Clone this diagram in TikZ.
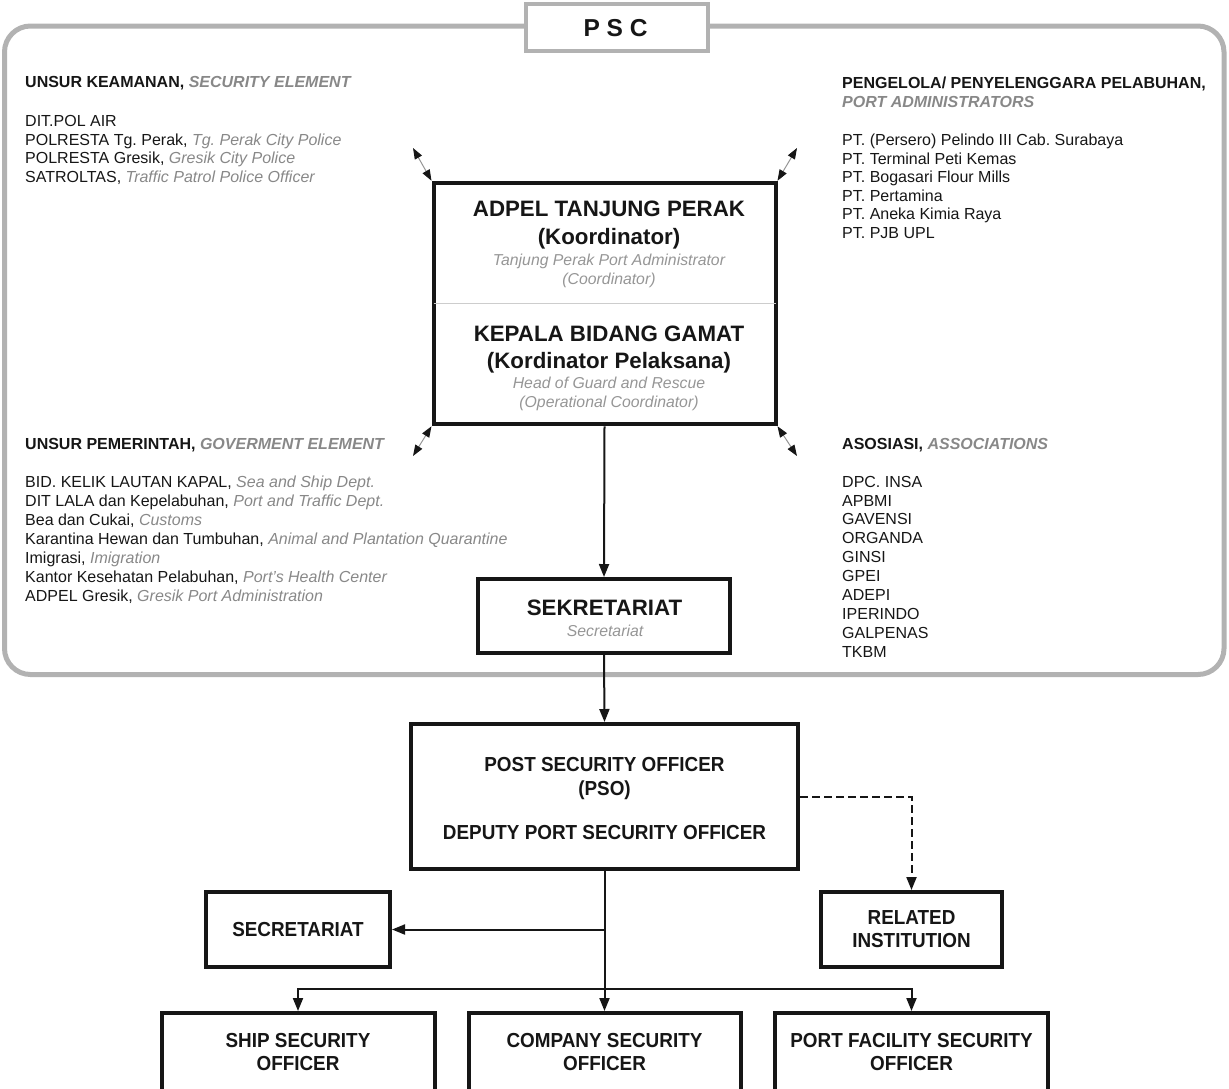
\documentclass[tikz,border=0pt]{standalone}
\usepackage{fontspec}
\setmainfont{Liberation Sans}
\newfontfamily\condsans[FakeStretch=0.93]{Liberation Sans}
\usetikzlibrary{arrows.meta}
\definecolor{framegray}{RGB}{178,178,178}
\definecolor{engray}{RGB}{136,136,136}
\definecolor{softgray}{RGB}{150,150,150}
\definecolor{rulegray}{RGB}{205,205,205}
\definecolor{ink}{RGB}{22,22,22}
\newcommand\en[1]{{\color{engray}\itshape #1}}
\frenchspacing

\begin{document}
\begin{tikzpicture}[x=1pt,y=-1pt,
  frame/.style={draw=framegray, line width=5pt, rounded corners=26pt},
  pscbox/.style={draw=framegray, line width=4pt, fill=white, inner sep=0,
    minimum width=182pt, minimum height=47pt},
  box/.style={draw=ink, line width=4pt, fill=white, inner sep=0, align=center,
    text=ink, font=\condsans\bfseries\fontsize{20.3}{22.8}\selectfont},
  body/.style={anchor=north west, inner sep=0, align=left, text=ink,
    font=\fontsize{16}{18.9}\selectfont},
  title/.style={anchor=base, inner sep=0, text=ink,
    font=\bfseries\fontsize{22.3}{26}\selectfont},
  sub/.style={anchor=base, inner sep=0, text=softgray,
    font=\itshape\fontsize{15.8}{19}\selectfont},
  line/.style={anchor=base, inner sep=0, text=ink,
    font=\condsans\bfseries\fontsize{20.3}{22.8}\selectfont},
  flow/.style={draw=ink, line width=2pt, -{Triangle[length=13pt,width=10pt]}},
  dashflow/.style={flow, dash pattern=on 8pt off 4pt},
  diag/.style={draw=softgray, line width=1pt,
    {Triangle[length=11pt,width=8pt,color=ink]}-{Triangle[length=11pt,width=8pt,color=ink]}}
]
\useasboundingbox (0,0) rectangle (1229,1088);

% PSC frame and its title tab
\draw[frame] (4.5,26) rectangle (1224,674.5);
\node[pscbox] (psc) at (617,27) {};
\node[anchor=base, inner sep=0, text=ink, font=\bfseries\fontsize{24.5}{28}\selectfont]
  (psctitle) at (615.5,36) {P S C};

% member lists
\node[body] (sechead) at (25,75.7)
  {\textbf{UNSUR KEAMANAN,} \textbf{\en{SECURITY ELEMENT}}};
\node[body] (seclist) at (25,114.8)
  {DIT.POL AIR\\
   POLRESTA Tg. Perak, \en{Tg. Perak City Police}\\
   POLRESTA Gresik, \en{Gresik City Police}\\
   SATROLTAS, \en{Traffic Patrol Police Officer}};

\node[body, font=\bfseries\fontsize{16}{19.3}\selectfont] (porthead) at (842,76.7)
  {PENGELOLA/ PENYELENGGARA PELABUHAN,\\ \en{PORT ADMINISTRATORS}};
\node[body, font=\fontsize{16}{18.6}\selectfont] (portlist) at (842,133.7)
  {PT. (Persero) Pelindo III Cab. Surabaya\\
   PT. Terminal Peti Kemas\\
   PT. Bogasari Flour Mills\\
   PT. Pertamina\\
   PT. Aneka Kimia Raya\\
   PT. PJB UPL};

\node[body] (govhead) at (25,438.1)
  {\textbf{UNSUR PEMERINTAH,} \textbf{\en{GOVERMENT ELEMENT}}};
\node[body] (govlist) at (25,475.8)
  {BID. KELIK LAUTAN KAPAL, \en{Sea and Ship Dept.}\\
   DIT LALA dan Kepelabuhan, \en{Port and Traffic Dept.}\\
   Bea dan Cukai, \en{Customs}\\
   Karantina Hewan dan Tumbuhan, \en{Animal and Plantation Quarantine}\\
   Imigrasi, \en{Imigration}\\
   Kantor Kesehatan Pelabuhan, \en{Port's Health Center}\\
   ADPEL Gresik, \en{Gresik Port Administration}};

\node[body] (asshead) at (842,438.1)
  {\textbf{ASOSIASI,} \textbf{\en{ASSOCIATIONS}}};
\node[body] (asslist) at (842,475.8)
  {DPC. INSA\\ APBMI\\ GAVENSI\\ ORGANDA\\ GINSI\\ GPEI\\ ADEPI\\ IPERINDO\\ GALPENAS\\ TKBM};

% coordinator box
\node[box, minimum width=342pt, minimum height=241.5pt] (adpel) at (604.5,303.5) {};
\draw[rulegray, line width=1.2pt] ([xshift=2pt]adpel.west) -- ([xshift=-2pt]adpel.east);
\node[title] (a1) at (609,216.7) {ADPEL TANJUNG PERAK};
\node[title] (a2) at (609,244) {(Koordinator)};
\node[sub]   (a3) at (609,265) {Tanjung Perak Port Administrator};
\node[sub]   (a4) at (609,284) {(Coordinator)};
\node[title] (a5) at (609,341) {KEPALA BIDANG GAMAT};
\node[title] (a6) at (609,368) {(Kordinator Pelaksana)};
\node[sub]   (a7) at (609,388.3) {Head of Guard and Rescue};
\node[sub]   (a8) at (609,407.7) {(Operational Coordinator)};

% links from the coordinator to the four member groups
\coordinate (tl) at (413,148);
\coordinate (tr) at (797,148);
\coordinate (bl) at (413,456);
\coordinate (br) at (797,456);
\draw[diag] (adpel.north west) -- (tl);
\draw[diag] (adpel.north east) -- (tr);
\draw[diag] (adpel.south west) -- (bl);
\draw[diag] (adpel.south east) -- (br);

% secretariat of the committee
\node[box, minimum width=252pt, minimum height=74pt] (sek) at (604,616) {};
\node[title] (s1) at (604.5,615) {SEKRETARIAT};
\node[sub]   (s2) at (605,636) {Secretariat};

% port security officer
\node[box, minimum width=387pt, minimum height=145pt] (pso) at (604.5,796.5) {};
\node[line] (p1) at (604.5,771.7) {POST SECURITY OFFICER};
\node[line] (p2) at (604.5,795) {(PSO)};
\node[line] (p3) at (604.5,839) {DEPUTY PORT SECURITY OFFICER};

% lower level
\node[box, minimum width=184pt, minimum height=75pt] (sec) at (298,929.5) {SECRETARIAT};
\node[box, minimum width=181pt, minimum height=75pt] (rel) at (911.5,929.5) {RELATED\\INSTITUTION};
\node[box, minimum width=273pt, minimum height=78pt] (sso) at (298,1052) {SHIP SECURITY\\OFFICER};
\node[box, minimum width=272pt, minimum height=78pt] (cso) at (604.5,1052) {COMPANY SECURITY\\OFFICER};
\node[box, minimum width=273pt, minimum height=78pt] (pfso) at (911.5,1052) {PORT FACILITY SECURITY\\OFFICER};

% connectors
\draw[flow] (adpel.south) -- (sek.north);
\draw[flow] (sek.south) -- (pso.north);
\draw[dashflow] (pso.east) -| (rel.north);
\draw[flow] (pso.south) -- (cso.north);
\coordinate (split) at (pso.south |- sec.east);
\draw[flow] (split) -- (sec.east);
\coordinate (barlevel) at (0,989);
\coordinate (fork) at (pso.south |- barlevel);
\draw[flow] (fork) -| (sso.north);
\draw[flow] (fork) -| (pfso.north);
\end{tikzpicture}
\end{document}
